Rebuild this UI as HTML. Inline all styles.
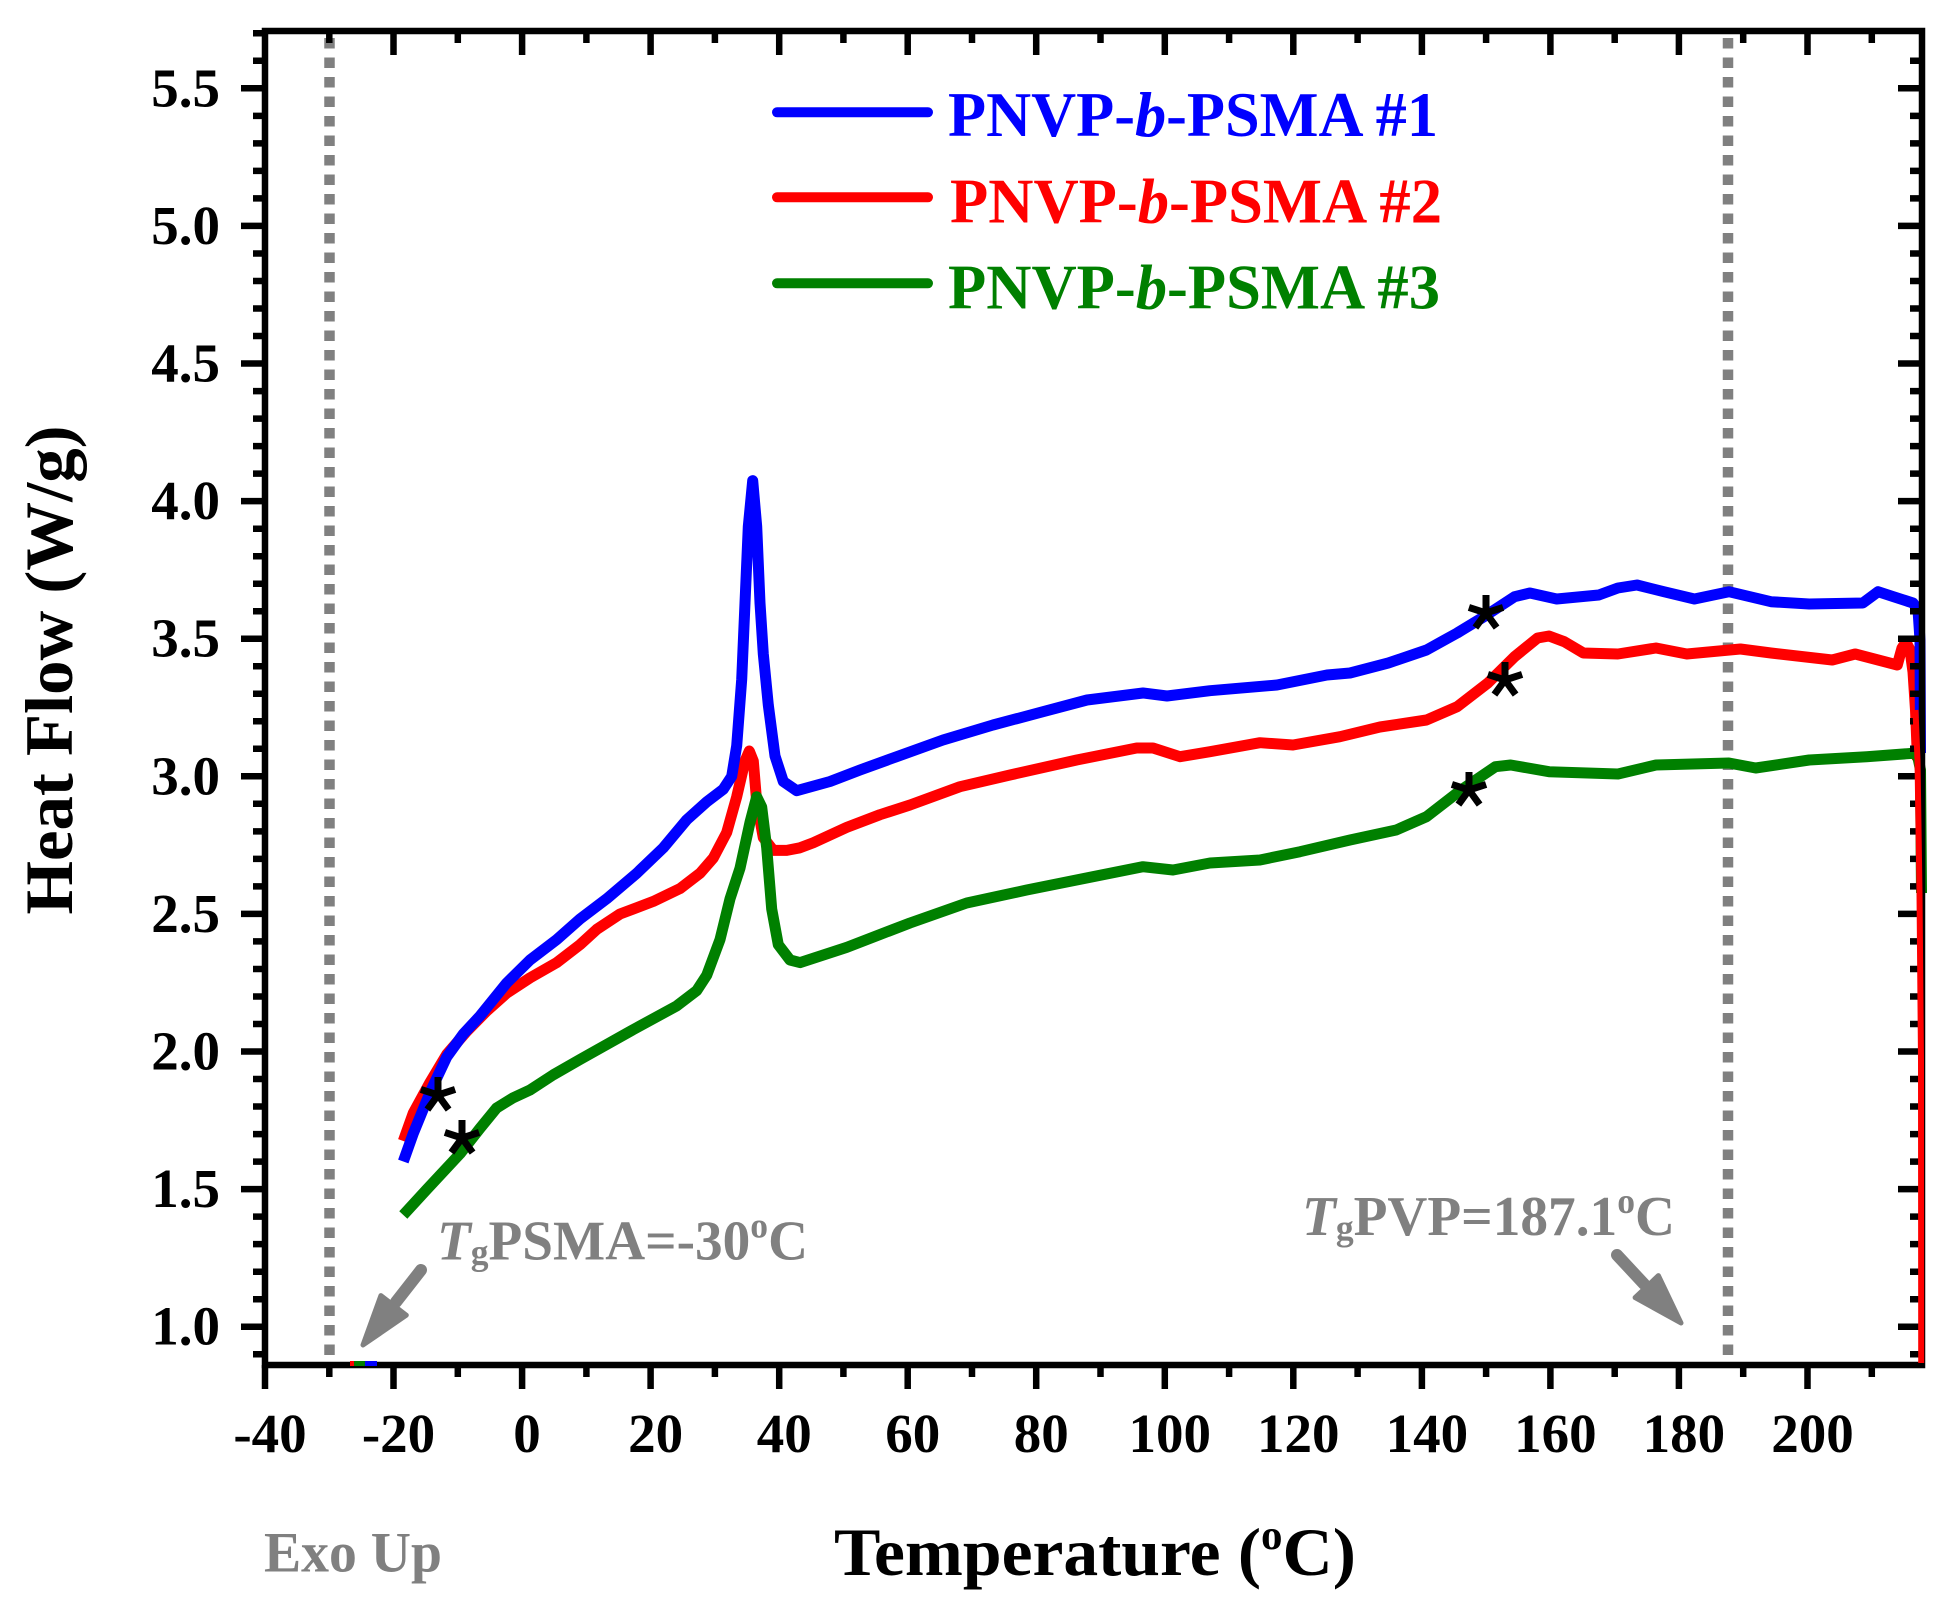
<!DOCTYPE html>
<html><head><meta charset="utf-8">
<style>
html,body{margin:0;padding:0;background:#fff;}
svg{display:block;}
text{font-family:"Liberation Serif","Times New Roman",serif;font-weight:bold;}
</style></head>
<body>
<svg width="1950" height="1610" viewBox="0 0 1950 1610" xmlns="http://www.w3.org/2000/svg">
<rect width="1950" height="1610" fill="#fff"/>

<!-- dashed reference lines -->
<g stroke="#808080" stroke-width="10.5" stroke-dasharray="10.5 9">
<line x1="329.5" y1="38" x2="329.5" y2="1362"/>
<line x1="1728" y1="38" x2="1728" y2="1362"/>
</g>

<!-- curves -->
<g fill="none" stroke-width="11" stroke-linejoin="round" stroke-linecap="butt">
<polyline stroke="#ff0000" points="403.3,1141 413.3,1113 430,1082.4 446.7,1054.4 466.7,1031.4 486.7,1011 506.7,993.2 530,977.9 556.7,962.6 580,944.7 596.7,929.4 620,914 653.3,901.4 680,888.6 700,873.3 713.3,858 726.7,832.5 736.7,796.8 745,761 749.3,751 753.3,761 756.7,802 763.3,837.6 773.3,850.4 786.7,850.4 800,847.8 813.3,842.7 846.7,827.4 880,814.7 910,805 960,786.7 1010,775 1076.7,760 1136.7,748 1153,748 1180,756.7 1210,751.7 1260,742.7 1293,745 1340,736.7 1380,727 1426.5,720 1457.2,706.7 1487.9,683 1514.6,656.7 1537.6,638 1549,636 1564.3,641.7 1583.4,653 1617.9,654 1656,648 1686.8,654 1740.4,649 1771,653 1832.2,660 1855.2,654 1897.3,665 1902,648 1906,642 1910,650 1913,672 1915.5,710 1917.5,760"/>
<polyline stroke="#008000" points="403.3,1215 426.7,1189.5 460,1153.8 480,1128.3 496.7,1107.9 513.3,1097.7 530,1090 553.3,1074.8 580,1059.5 630,1031.4 676.7,1005.9 696.7,990.6 706.7,975.3 720,939.6 730,898.8 740,868.2 750,822.3 756.7,796.8 761.7,807 766.7,847.8 771.7,909 778.3,944.7 790,960 800,962.6 846.7,947.4 880,934.5 910,923 966.7,903 1026.7,890 1093,876.7 1143,866.7 1173,870 1210,863 1260,860 1300,851.7 1350,840 1396.2,830 1426.5,816.7 1461,790 1495.4,766.7 1510.7,765 1549,771.7 1618,774 1656,765 1728.9,763 1755.7,768 1809.2,760 1866.6,756.7 1917,753 1920.5,770 1921.5,893"/>
<polyline stroke="#0000ff" points="403.3,1161.5 413.3,1133.4 430,1092.6 446.7,1057 463.3,1034 480,1016 506.7,983 530,960 556.7,939.6 580,919 606.7,898.8 636.7,873.3 663.3,847.8 686.7,819.8 706.7,801.9 723.3,789.2 731.7,776.4 736.7,745.8 741.7,679.5 745,603 748.3,526.5 752.7,480.6 756.7,526.5 760,603 763.3,654 768.3,705 775,756 783.3,781.5 796.7,790.7 830,781.5 860,770 893,758 943,740 993,725 1043,711.7 1087,700 1143,693 1167,696 1210,690.7 1277,685 1327,675 1350,673 1388.3,663 1426.5,650 1457.2,633 1484,616.7 1514.6,596.7 1529.9,593 1556.7,599 1598.8,595 1617.9,588 1637,585 1663.8,591.7 1694.4,599 1728.9,591.7 1771,601.7 1809.2,604 1862.8,603 1878.1,591.7 1893.4,596.7 1913,603 1918,610 1920,640 1920.5,753"/>
</g>

<!-- asterisks -->
<g stroke="#000" stroke-width="7" fill="none">
<g transform="translate(438,1095)"><path d="M0 0V-18M0 0L17.1 -5.6M0 0L10.6 14.6M0 0L-10.6 14.6M0 0L-17.1 -5.6"/></g>
<g transform="translate(462,1138)"><path d="M0 0V-18M0 0L17.1 -5.6M0 0L10.6 14.6M0 0L-10.6 14.6M0 0L-17.1 -5.6"/></g>
<g transform="translate(1486,613)"><path d="M0 0V-18M0 0L17.1 -5.6M0 0L10.6 14.6M0 0L-10.6 14.6M0 0L-17.1 -5.6"/></g>
<g transform="translate(1505,680)"><path d="M0 0V-18M0 0L17.1 -5.6M0 0L10.6 14.6M0 0L-10.6 14.6M0 0L-17.1 -5.6"/></g>
<g transform="translate(1469,790)"><path d="M0 0V-18M0 0L17.1 -5.6M0 0L10.6 14.6M0 0L-10.6 14.6M0 0L-17.1 -5.6"/></g>
</g>

<!-- axes frame -->
<rect x="265" y="31" width="1657" height="1334" fill="none" stroke="#000" stroke-width="6.5"/>

<!-- ticks -->
<g stroke="#000" stroke-width="6.5" fill="none">
<path d="M241 1326.7H265M241 1189.1H265M241 1051.5H265M241 913.9H265M241 776.3H265M241 638.7H265M241 501.1H265M241 363.5H265M241 225.9H265M241 88.3H265"/>
<path d="M253 1354.2H265M253 1299.2H265M253 1271.7H265M253 1244.1H265M253 1216.6H265M253 1161.6H265M253 1134.1H265M253 1106.5H265M253 1079H265M253 1024H265M253 996.5H265M253 969H265M253 941.4H265M253 886.4H265M253 858.9H265M253 831.4H265M253 803.8H265M253 748.8H265M253 721.3H265M253 693.8H265M253 666.2H265M253 611.2H265M253 583.7H265M253 556.2H265M253 528.7H265M253 473.6H265M253 446.1H265M253 418.6H265M253 391.1H265M253 336H265M253 308.5H265M253 281H265M253 253.5H265M253 198.4H265M253 170.9H265M253 143.4H265M253 115.9H265M253 60.8H265M253 33.3H265"/>
<path d="M1898 1326.7H1922M1898 1189.1H1922M1898 1051.5H1922M1898 913.9H1922M1898 776.3H1922M1898 638.7H1922M1898 501.1H1922M1898 363.5H1922M1898 225.9H1922M1898 88.3H1922"/>
<path d="M1910 1354.2H1922M1910 1299.2H1922M1910 1271.7H1922M1910 1244.1H1922M1910 1216.6H1922M1910 1161.6H1922M1910 1134.1H1922M1910 1106.5H1922M1910 1079H1922M1910 1024H1922M1910 996.5H1922M1910 969H1922M1910 941.4H1922M1910 886.4H1922M1910 858.9H1922M1910 831.4H1922M1910 803.8H1922M1910 748.8H1922M1910 721.3H1922M1910 693.8H1922M1910 666.2H1922M1910 611.2H1922M1910 583.7H1922M1910 556.2H1922M1910 528.7H1922M1910 473.6H1922M1910 446.1H1922M1910 418.6H1922M1910 391.1H1922M1910 336H1922M1910 308.5H1922M1910 281H1922M1910 253.5H1922M1910 198.4H1922M1910 170.9H1922M1910 143.4H1922M1910 115.9H1922M1910 60.8H1922"/>
<path d="M265 1365V1389M393.5 1365V1389M522.1 1365V1389M650.6 1365V1389M779.2 1365V1389M907.7 1365V1389M1036.2 1365V1389M1164.8 1365V1389M1293.3 1365V1389M1421.9 1365V1389M1550.4 1365V1389M1678.9 1365V1389M1807.5 1365V1389"/>
<path d="M329.3 1365V1377M457.8 1365V1377M586.4 1365V1377M714.9 1365V1377M843.4 1365V1377M972 1365V1377M1100.5 1365V1377M1229.1 1365V1377M1357.6 1365V1377M1486.1 1365V1377M1614.7 1365V1377M1743.2 1365V1377M1871.8 1365V1377"/>
<path d="M393.5 31V55M522.1 31V55M650.6 31V55M779.2 31V55M907.7 31V55M1036.2 31V55M1164.8 31V55M1293.3 31V55M1421.9 31V55M1550.4 31V55M1678.9 31V55M1807.5 31V55"/>
<path d="M329.3 31V43M457.8 31V43M586.4 31V43M714.9 31V43M843.4 31V43M972 31V43M1100.5 31V43M1229.1 31V43M1357.6 31V43M1486.1 31V43M1614.7 31V43M1743.2 31V43M1871.8 31V43"/>
</g>

<!-- red drop drawn over right axis -->
<path d="M1915.5,710 L1917.5,760 L1919.5,893 L1921,1060 L1921.2,1363" fill="none" stroke="#ff0000" stroke-width="6" stroke-linejoin="round"/>

<!-- small colored stubs on the x axis -->
<rect x="350" y="1361" width="4" height="5" fill="#ff0000"/>
<rect x="354" y="1361" width="11" height="5" fill="#008000"/>
<rect x="365" y="1361" width="12" height="5" fill="#0000ff"/>

<!-- y tick labels -->
<g font-size="55" text-anchor="end" fill="#000">
<text x="220" y="1344.7">1.0</text>
<text x="220" y="1207.1">1.5</text>
<text x="220" y="1069.5">2.0</text>
<text x="220" y="931.9">2.5</text>
<text x="220" y="794.3">3.0</text>
<text x="220" y="656.7">3.5</text>
<text x="220" y="519.1">4.0</text>
<text x="220" y="381.5">4.5</text>
<text x="220" y="243.9">5.0</text>
<text x="220" y="106.3">5.5</text>
</g>

<!-- x tick labels -->
<g font-size="55" text-anchor="middle" fill="#000">
<text x="270" y="1452">-40</text>
<text x="398.5" y="1452">-20</text>
<text x="527" y="1452">0</text>
<text x="655.6" y="1452">20</text>
<text x="784.2" y="1452">40</text>
<text x="912.7" y="1452">60</text>
<text x="1041.2" y="1452">80</text>
<text x="1169.8" y="1452">100</text>
<text x="1298.3" y="1452">120</text>
<text x="1426.9" y="1452">140</text>
<text x="1555.4" y="1452">160</text>
<text x="1683.9" y="1452">180</text>
<text x="1812.5" y="1452">200</text>
</g>

<!-- axis titles -->
<text x="834" y="1575" font-size="68" fill="#000" textLength="522" lengthAdjust="spacingAndGlyphs">Temperature (<tspan font-size="42" dy="-26">o</tspan><tspan dy="26">C)</tspan></text>
<text transform="translate(72,670) rotate(-90)" x="0" y="0" text-anchor="middle" font-size="68" fill="#000" textLength="489" lengthAdjust="spacingAndGlyphs">Heat Flow (W/g)</text>

<!-- Exo Up -->
<text x="264" y="1571.7" font-size="57" fill="#808080" textLength="178" lengthAdjust="spacingAndGlyphs">Exo Up</text>

<!-- legend -->
<g stroke-width="10" stroke-linecap="round">
<line x1="777" y1="112.3" x2="928" y2="112.3" stroke="#0000ff"/>
<line x1="777" y1="197.3" x2="928" y2="197.3" stroke="#ff0000"/>
<line x1="777" y1="283.3" x2="928" y2="283.3" stroke="#008000"/>
</g>
<text x="948" y="136" font-size="64" fill="#0000ff" textLength="490" lengthAdjust="spacingAndGlyphs">PNVP-<tspan font-style="italic">b</tspan>-PSMA #1</text>
<text x="950" y="222.3" font-size="64" fill="#ff0000" textLength="492" lengthAdjust="spacingAndGlyphs">PNVP-<tspan font-style="italic">b</tspan>-PSMA #2</text>
<text x="948" y="308.3" font-size="64" fill="#008000" textLength="492" lengthAdjust="spacingAndGlyphs">PNVP-<tspan font-style="italic">b</tspan>-PSMA #3</text>

<!-- annotations -->
<text x="437" y="1259.5" font-size="56" fill="#808080" textLength="371" lengthAdjust="spacingAndGlyphs"><tspan font-style="italic">T</tspan><tspan font-size="36" dy="5">g</tspan><tspan dy="-5">PSMA=-30</tspan><tspan font-size="36" dy="-22">o</tspan><tspan dy="22">C</tspan></text>
<text x="1302" y="1235" font-size="56" fill="#808080" textLength="373" lengthAdjust="spacingAndGlyphs"><tspan font-style="italic">T</tspan><tspan font-size="36" dy="5">g</tspan><tspan dy="-5">PVP=187.1</tspan><tspan font-size="36" dy="-22">o</tspan><tspan dy="22">C</tspan></text>

<!-- arrows -->
<g fill="#808080" stroke="#808080" stroke-linejoin="round">
<line x1="421" y1="1270" x2="396" y2="1302" stroke-width="12" stroke-linecap="round"/>
<polygon points="363,1345 406.3,1315.2 380.9,1295.6" stroke-width="5"/>
<line x1="1617" y1="1255" x2="1644" y2="1284" stroke-width="12" stroke-linecap="round"/>
<polygon points="1681,1323 1658.4,1275.6 1635.1,1297.6" stroke-width="5"/>
</g>
</svg>
</body></html>
